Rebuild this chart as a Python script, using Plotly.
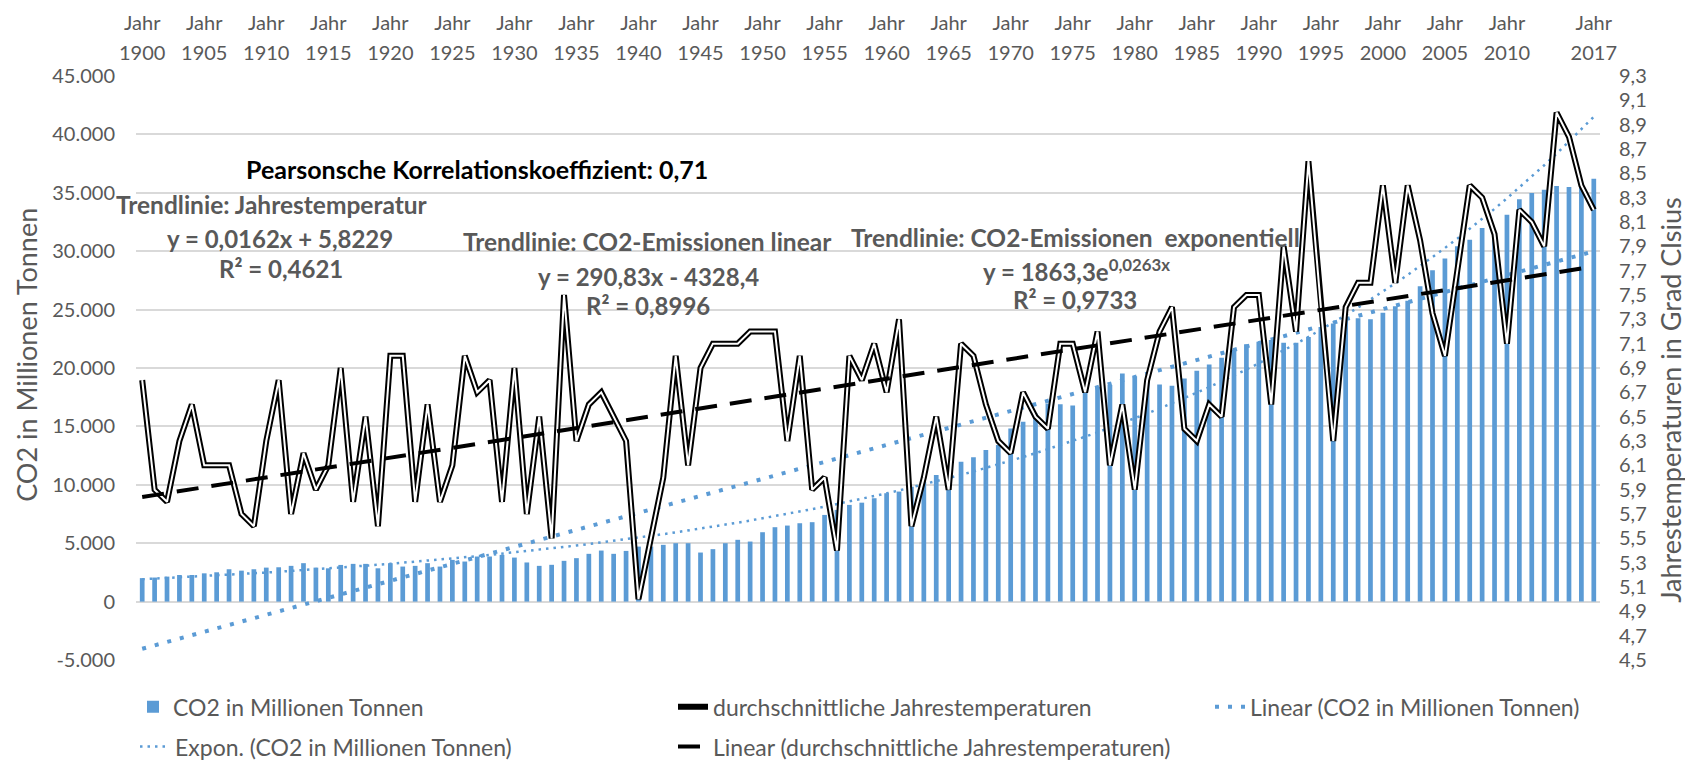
import numpy as np
import plotly.graph_objects as go

# ---------------- data ----------------
years = list(range(1900, 2018))

co2 = [2010, 2060, 2140, 2280, 2280, 2420, 2510, 2770, 2650, 2770,
       2910, 2940, 3060, 3290, 2910, 2850, 3140, 3230, 3230, 2850,
       3290, 3000, 3060, 3290, 3000, 3570, 3430, 3860, 3860, 4000,
       3770, 3350, 3060, 3150, 3490, 3720, 4090, 4370, 4090, 4340,
       4710, 4710, 4860, 5000, 5000, 4200, 4490, 5000, 5290, 5140,
       5940, 6370, 6510, 6710, 6800, 7420, 7850, 8280, 8470, 8850,
       9280, 9420, 9840, 10270, 10840, 11270, 11980, 12350, 12980, 13400,
       14830, 15400, 16100, 16970, 16900, 16800, 18100, 18400, 18540, 19530,
       19300, 18960, 18590, 18480, 19100, 19760, 20300, 20870, 21580, 22040,
       22240, 22390, 22160, 22160, 22660, 23500, 23800, 24380, 24260, 24180,
       24730, 25290, 25750, 27000, 28370, 29370, 30420, 30990, 31990, 31640,
       33130, 34440, 34980, 35270, 35580, 35500, 35560, 36200]

temp = [6.8, 5.9, 5.8, 6.3, 6.6, 6.1, 6.1, 6.1, 5.7, 5.6,
        6.3, 6.8, 5.7, 6.2, 5.9, 6.1, 6.9, 5.8, 6.5, 5.6,
        7.0, 7.0, 5.8, 6.6, 5.8, 6.1, 7.0, 6.7, 6.8, 5.8,
        6.9, 5.7, 6.5, 5.5, 7.5, 6.3, 6.6, 6.7, 6.5, 6.3,
        5.0, 5.5, 6.0, 7.0, 6.1, 6.9, 7.1, 7.1, 7.1, 7.2,
        7.2, 7.2, 6.3, 7.0, 5.9, 6.0, 5.4, 7.0, 6.8, 7.1,
        6.7, 7.3, 5.6, 6.0, 6.5, 5.9, 7.1, 7.0, 6.6, 6.3,
        6.2, 6.7, 6.5, 6.4, 7.1, 7.1, 6.7, 7.2, 6.1, 6.6,
        5.9, 6.8, 7.2, 7.4, 6.4, 6.3, 6.6, 6.5, 7.4, 7.5,
        7.5, 6.6, 7.9, 7.2, 8.6, 7.4, 6.3, 7.4, 7.6, 7.6,
        8.4, 7.6, 8.4, 7.95, 7.35, 7.0, 7.7, 8.4, 8.3, 8.0,
        7.1, 8.2, 8.1, 7.9, 9.0, 8.8, 8.4, 8.2]

top_tick_years = [1900, 1905, 1910, 1915, 1920, 1925, 1930, 1935, 1940, 1945,
                  1950, 1955, 1960, 1965, 1970, 1975, 1980, 1985, 1990, 1995,
                  2000, 2005, 2010, 2017]
left_ticks = [-5000, 0, 5000, 10000, 15000, 20000, 25000, 30000, 35000, 40000, 45000]
right_ticks = [4.5, 4.7, 4.9, 5.1, 5.3, 5.5, 5.7, 5.9, 6.1, 6.3, 6.5, 6.7, 6.9,
               7.1, 7.3, 7.5, 7.7, 7.9, 8.1, 8.3, 8.5, 8.7, 8.9, 9.1, 9.3]

# trendline parameters as printed in the chart (x = 1 .. n)
lin_co2_slope, lin_co2_icpt = 290.83, -4328.4
exp_co2_a, exp_co2_b = 1863.3, 0.0263
lin_t_slope, lin_t_icpt = 0.0162, 5.8229

# ---------------- derived ----------------
idx = np.arange(1, len(years) + 1)
lin_co2 = lin_co2_slope * idx + lin_co2_icpt
exp_co2 = exp_co2_a * np.exp(exp_co2_b * idx)
lin_t = lin_t_slope * idx + lin_t_icpt

def de_thousands(v):
    s = f"{abs(v):,}".replace(",", ".")
    return ("-" if v < 0 else "") + s

left_text = [de_thousands(v) for v in left_ticks]
right_text = [f"{v:.1f}".replace(".", ",") for v in right_ticks]
top_text = [str(y) for y in top_tick_years]

BLUE = "#5B9BD5"
GREY = "#595959"
FONT = "Lato"

fig = go.Figure()

fig.add_trace(go.Bar(x=years, y=co2, name="CO2 in Millionen Tonnen",
                     marker=dict(color=BLUE, line=dict(width=0)),
                     legend="legend"))
fig.add_trace(go.Scatter(x=years, y=lin_co2, mode="lines",
                         name="Linear (CO2 in Millionen Tonnen)",
                         line=dict(color=BLUE, width=4, dash="4px,9px"),
                         legend="legend3"))
fig.add_trace(go.Scatter(x=years, y=exp_co2, mode="lines",
                         name="Expon. (CO2 in Millionen Tonnen)",
                         line=dict(color=BLUE, width=2.5, dash="2.5px,5px"),
                         legend="legend4"))
fig.add_trace(go.Scatter(x=years, y=temp, mode="lines", xaxis="x2", yaxis="y2",
                         name="durchschnittliche Jahrestemperaturen",
                         line=dict(color="black", width=6),
                         legend="legend2"))
fig.add_trace(go.Scatter(x=years, y=temp, mode="lines", xaxis="x2", yaxis="y2",
                         showlegend=False, hoverinfo="skip",
                         line=dict(color="white", width=2)))
fig.add_trace(go.Scatter(x=years, y=lin_t, mode="lines", xaxis="x2", yaxis="y2",
                         name="Linear (durchschnittliche Jahrestemperaturen)",
                         line=dict(color="black", width=4, dash="22px,13px"),
                         legend="legend5"))

# page has an 8px body margin: figure is placed at (8, 8) of the page
OFF = 8
FIG_W, FIG_H = 1693 - OFF, 763 - OFF
# plot area in page pixels (for placing text annotations)
PL, PR, PT, PB = 136, 1600, 76, 660.3
def px(v):
    return (v - PL) / (PR - PL)
def py(v):
    return (PB - v) / (PB - PT)

ann = []
def label(text, x, y, size=24, color=GREY, bold=True, angle=0):
    ann.append(dict(text=f"<b>{text}</b>" if bold else text,
                    x=px(x), y=py(y), xref="paper", yref="paper",
                    xanchor="center", yanchor="middle", showarrow=False,
                    textangle=angle,
                    font=dict(family=FONT, size=size, color=color)))

label("Pearsonsche Korrelationskoeffizient: 0,71", 477, 169, size=25, color="black")
label("Trendlinie: Jahrestemperatur", 272, 205, size=24.5)
label("y = 0,0162x + 5,8229", 280, 239)
label("R² = 0,4621", 281, 269)
label("Trendlinie: CO2-Emissionen linear", 647, 242, size=24.5)
label("y = 290,83x - 4328,4", 648, 277)
label("R² = 0,8996", 648, 306)
label("Trendlinie: CO2-Emissionen \u00a0exponentiell", 1075, 238, size=24.5)
label("y = 1863,3e<sup>0,0263x</sup>", 1076, 270)
label("R² = 0,9733", 1075, 300)
label("CO2 in Millionen Tonnen", 27, 355, size=27, bold=False, angle=-90)
label("Jahrestemperaturen in Grad Clsius", 1671, 400, size=27, bold=False, angle=-90)

def leg(text_x, row_y):
    return dict(orientation="h", x=px(text_x - 40), y=py(row_y),
                xanchor="left", yanchor="middle",
                font=dict(family=FONT, size=23, color=GREY),
                bgcolor="rgba(0,0,0,0)")

fig.update_layout(
    width=FIG_W, height=FIG_H,
    margin=dict(l=PL - OFF, r=1693 - PR, t=PT - OFF, b=763 - PB, autoexpand=False),
    paper_bgcolor="white", plot_bgcolor="white",
    font=dict(family=FONT, size=20, color=GREY),
    bargap=0.62,
    showlegend=True,
    xaxis=dict(side="top", range=[1899.5, 2017.5], tickmode="array",
               tickvals=top_tick_years, ticktext=top_text,
               showgrid=False, zeroline=False, showline=False, ticks="",
               ticklabelstandoff=11,
               tickfont=dict(family=FONT, size=20, color=GREY)),
    xaxis2=dict(side="top", overlaying="x", matches="x", anchor="y2",
                range=[1899.5, 2017.5], tickmode="array",
                tickvals=top_tick_years, ticktext=["Jahr"] * len(top_tick_years),
                showgrid=False, zeroline=False, showline=False, ticks="",
                ticklabelstandoff=41,
                tickfont=dict(family=FONT, size=20, color=GREY)),
    yaxis=dict(range=[-5000, 45000], tickmode="array", tickvals=left_ticks,
               ticktext=left_text, showgrid=True, gridcolor="#D9D9D9",
               gridwidth=1.5, zeroline=False, showline=False, ticks="",
               ticklabelstandoff=20,
               tickfont=dict(family=FONT, size=20, color=GREY)),
    yaxis2=dict(range=[4.5, 9.3], overlaying="y", side="right", anchor="x2",
                tickmode="array", tickvals=right_ticks, ticktext=right_text,
                showgrid=False, zeroline=False, showline=False, ticks="",
                ticklabelstandoff=18,
                tickfont=dict(family=FONT, size=20, color=GREY)),
    legend=leg(173, 707),
    legend2=leg(713, 707),
    legend3=leg(1250, 707),
    legend4=leg(175, 747),
    legend5=leg(713, 747),
    annotations=ann,
)

fig.write_html("out.html")
